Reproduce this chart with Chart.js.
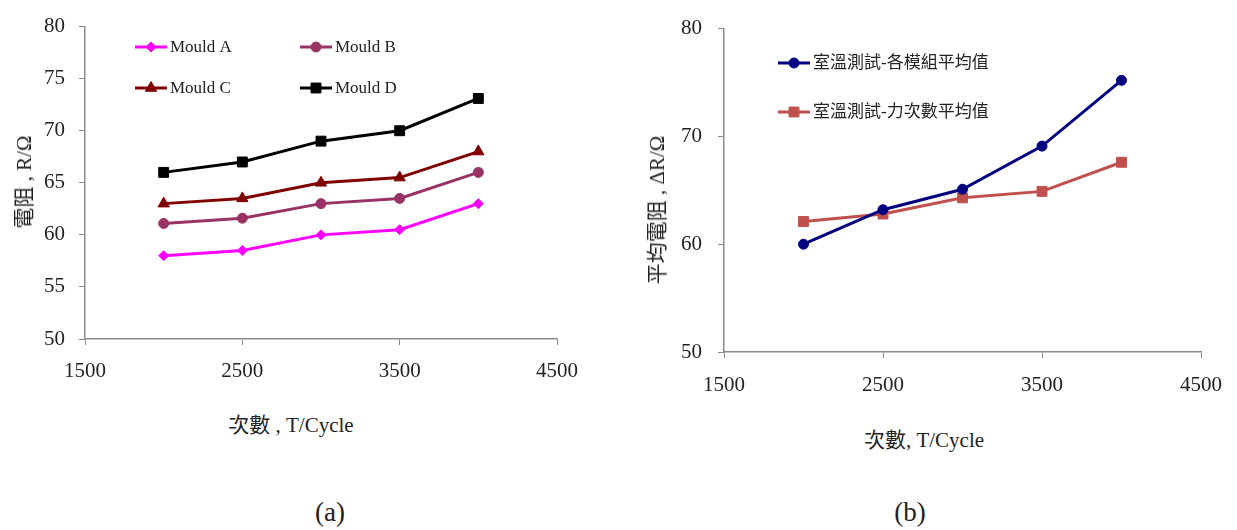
<!DOCTYPE html>
<html>
<head>
<meta charset="utf-8">
<script src="https://cdn.jsdelivr.net/npm/chart.js@4.4.0/dist/chart.umd.min.js"></script>
<style>
  body { margin: 0; background: #fff; width: 1237px; height: 530px; position: relative; overflow: hidden;
         font-family: "Liberation Serif", "Noto Sans CJK TC", serif; color: #222; }
  .box { position: absolute; top: 0; }
  .lbl { position: absolute; white-space: nowrap; transform: translate(-50%, -50%); font-size: 21px; }
  .rot { transform: translate(-50%, -50%) rotate(-90deg); }
  .cap { font-size: 27px; }
</style>
</head>
<body>
<div class="box" style="left:0;width:610px;height:400px"><canvas id="chartA" width="610" height="400"></canvas></div>
<div class="box" style="left:620px;width:617px;height:400px"><canvas id="chartB" width="617" height="400"></canvas></div>

<div class="lbl rot" style="left:22px;top:182px">電阻 , R/Ω</div>
<div class="lbl" style="left:291px;top:423px">次數 , T/Cycle</div>
<div class="lbl rot" style="left:655px;top:210px">平均電阻 , ΔR/Ω</div>
<div class="lbl" style="left:924px;top:438px">次數, T/Cycle</div>
<div class="lbl cap" style="left:330px;top:512px">(a)</div>
<div class="lbl cap" style="left:910px;top:512px">(b)</div>

<script>
// data
const cycles = [2000, 2500, 3000, 3500, 4000];
const mouldA = [58, 58.5, 60, 60.5, 63];
const mouldB = [61.1, 61.6, 63, 63.5, 66];
const mouldC = [63, 63.5, 65, 65.5, 68];
const mouldD = [66, 67, 69, 70, 73.1];
const avgByModule = [60, 63.2, 65.1, 69.1, 75.2];
const avgByForce = [62.1, 62.8, 64.3, 64.9, 67.6];

const xTicks = [1500, 2500, 3500, 4500];
const yTicksA = [50, 55, 60, 65, 70, 75, 80];
const yTicksB = [50, 60, 70, 80];

const serif = '"Liberation Serif", "Noto Sans CJK TC", serif';
const axisGrey = '#8c8c8c';

const toPoints = (ys) => cycles.map((x, i) => ({ x: x, y: ys[i] }));

// legend drawn inside the plot: line sample + marker + label
const inlineLegend = {
  id: 'inlineLegend',
  afterDatasetsDraw(chart, args, opts) {
    const ctx = chart.ctx;
    ctx.save();
    chart.data.datasets.forEach((ds, i) => {
      const x = opts.spotX[i], y = opts.spotY[i];
      ctx.strokeStyle = ds.borderColor;
      ctx.lineWidth = ds.borderWidth;
      ctx.beginPath();
      ctx.moveTo(x, y);
      ctx.lineTo(x + opts.lineLen, y);
      ctx.stroke();
      ctx.fillStyle = ds.pointBackgroundColor;
      ctx.strokeStyle = ds.pointBorderColor;
      ctx.lineWidth = 1;
      Chart.helpers.drawPoint(ctx, { pointStyle: ds.pointStyle, radius: ds.pointRadius, rotation: 0, borderWidth: 1 },
        x + opts.lineLen / 2, y);
      ctx.fillStyle = '#222';
      ctx.font = opts.font;
      ctx.textAlign = 'left';
      ctx.textBaseline = 'middle';
      ctx.fillText(ds.label, x + opts.lineLen + 3, y + 1);
    });
    ctx.restore();
  }
};

function series(label, ys, color, style, radius) {
  return {
    label: label,
    data: toPoints(ys),
    borderColor: color,
    backgroundColor: color,
    borderWidth: 3,
    pointStyle: style,
    pointRadius: radius,
    pointBackgroundColor: color,
    pointBorderColor: color,
    pointBorderWidth: 1,
    tension: 0
  };
}

function axes(yTicks, yWidth, xHeight, yPad, xPad) {
  return {
    x: {
      type: 'linear', min: 1500, max: 4500,
      afterBuildTicks: (s) => { s.ticks = xTicks.map(v => ({ value: v })); },
      afterFit: (s) => { s.height = xHeight; },
      ticks: { font: { family: serif, size: 21 }, color: '#222', padding: xPad, maxRotation: 0,
               callback: (v) => String(v) },
      grid: { drawOnChartArea: false, tickLength: 6, color: axisGrey },
      border: { color: axisGrey, width: 1.5 }
    },
    y: {
      min: 50, max: 80,
      afterBuildTicks: (s) => { s.ticks = yTicks.map(v => ({ value: v })); },
      afterFit: (s) => { s.width = yWidth; },
      ticks: { font: { family: serif, size: 21 }, color: '#222', padding: yPad },
      grid: { drawOnChartArea: false, tickLength: 6, color: axisGrey },
      border: { color: axisGrey, width: 1.5 }
    }
  };
}

new Chart(document.getElementById('chartA'), {
  type: 'line',
  data: {
    datasets: [
      series('Mould A', mouldA, '#ff00ff', 'rectRot', 5),
      series('Mould B', mouldB, '#993366', 'circle', 5),
      series('Mould C', mouldC, '#800000', 'triangle', 6.5),
      series('Mould D', mouldD, '#000000', 'rect', 7)
    ]
  },
  options: {
    responsive: false,
    animation: false,
    layout: { padding: { top: 23, right: 53, left: 0, bottom: 0 } },
    scales: axes(yTicksA, 85, 61, 14, 14),
    plugins: {
      legend: { display: false },
      tooltip: { enabled: false },
      inlineLegend: { spotX: [135, 300, 135, 300], spotY: [47, 47, 88, 88], lineLen: 32, font: '17px ' + serif }
    }
  },
  plugins: [inlineLegend]
});

new Chart(document.getElementById('chartB'), {
  type: 'line',
  data: {
    datasets: [
      series('室溫測試-各模組平均值', avgByModule, '#000080', 'circle', 5),
      series('室溫測試-力次數平均值', avgByForce, '#c0504d', 'rect', 7)
    ]
  },
  options: {
    responsive: false,
    animation: false,
    layout: { padding: { top: 23, right: 28, left: 0, bottom: 0 } },
    scales: axes(yTicksB, 104, 48, 16, 15),
    plugins: {
      legend: { display: false },
      tooltip: { enabled: false },
      inlineLegend: { spotX: [158, 158], spotY: [63, 112], lineLen: 32, font: '17px ' + serif }
    }
  },
  plugins: [inlineLegend]
});
</script>
</body>
</html>
